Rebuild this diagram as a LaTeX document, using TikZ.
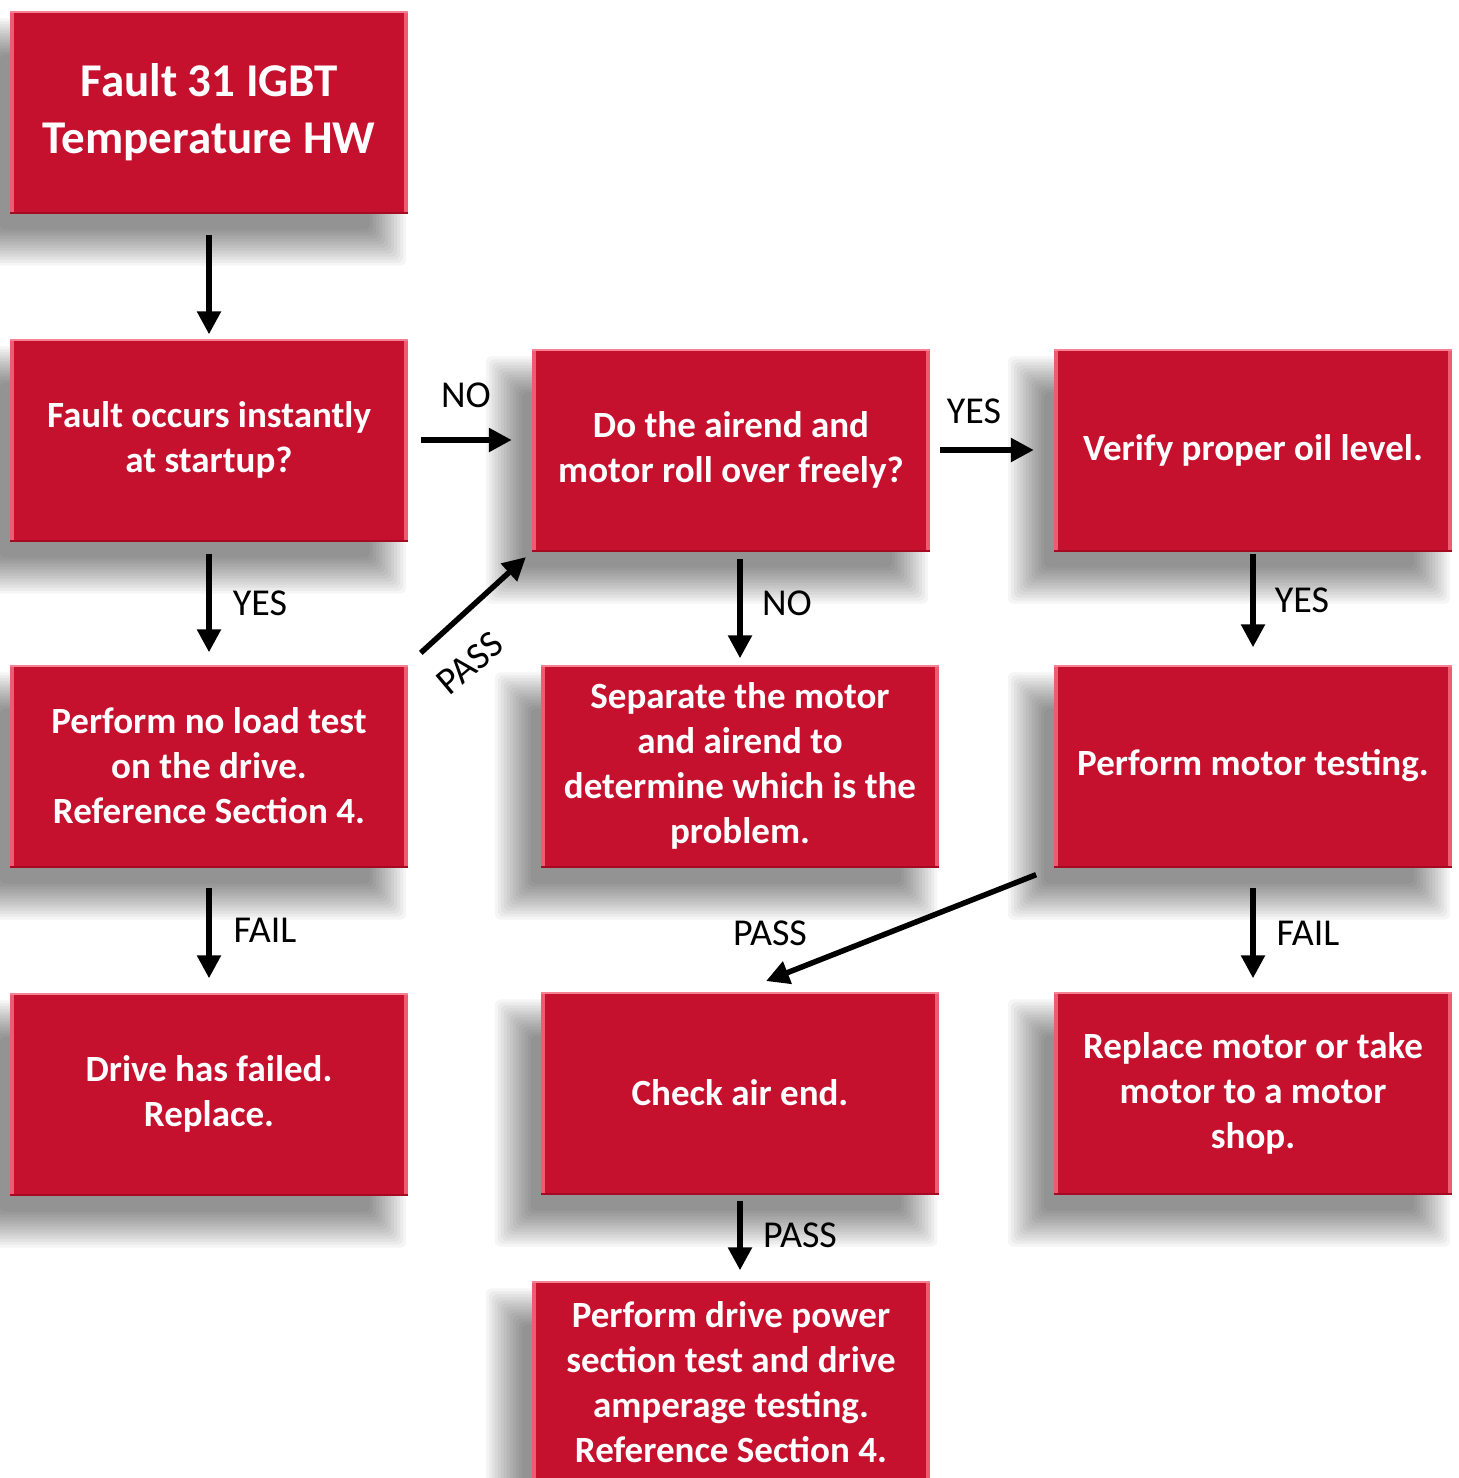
\documentclass[tikz,border=0pt]{standalone}
\usepackage{fontspec}
\setmainfont{Carlito}
\usetikzlibrary{arrows.meta}
\definecolor{boxred}{RGB}{197,16,46}
\definecolor{bevel}{RGB}{238,92,114}
\definecolor{bevtop}{RGB}{244,130,146}
\definecolor{bevdark}{RGB}{165,10,34}
\pgfdeclarelayer{shadowlayer}
\pgfsetlayers{shadowlayer,main}
\tikzset{
  box/.style={rectangle, fill=boxred, minimum width=398pt, minimum height=203pt,
    inner sep=0pt, align=center, text=white,
    font=\bfseries\fontsize{37}{45}\selectfont,
    path picture={
      \fill[bevel] (path picture bounding box.south west) rectangle ([xshift=4pt]path picture bounding box.north west);
      \fill[bevel] ([xshift=-4pt]path picture bounding box.south east) rectangle (path picture bounding box.north east);
      \fill[bevtop] ([yshift=-2pt]path picture bounding box.north west) rectangle (path picture bounding box.north east);
      \fill[bevdark] (path picture bounding box.south west) rectangle ([yshift=2pt]path picture bounding box.south east);
    }},
  titlebox/.style={box, font=\bfseries\fontsize{47}{57}\selectfont},
  arr/.style={line width=5.5pt, -{Triangle[length=23pt,width=23pt]}},
  lab/.style={font=\fontsize{38}{40}\selectfont, text=black, inner sep=0pt},
  shadowfill/.style={fill=black, opacity=0.04, rounded corners=6pt}
}
\begin{document}
\begin{tikzpicture}[x=1pt,y=-1pt]
\useasboundingbox (0,0) rectangle (1459,1478);
\begin{pgfonlayer}{shadowlayer}
\fill[white] (0,0) rectangle (1459,1478);
\end{pgfonlayer}
% boxes
\node[titlebox] (b1) at (209,112) {Fault 31 IGBT\\Temperature HW};
\node[box] (b2) at (209,440) {Fault occurs instantly\\at startup?};
\node[box] (b3) at (731,450) {Do the airend and\\motor roll over freely?};
\node[box] (b4) at (1253,450) {Verify proper oil level.};
\node[box] (b5) at (209,766) {Perform no load test\\on the drive.\\Reference Section 4.};
\node[box] (b6) at (740,766) {Separate the motor\\and airend to\\determine which is the\\problem.};
\node[box] (b7) at (1253,766) {Perform motor testing.};
\node[box] (b8) at (209,1094) {Drive has failed.\\Replace.};
\node[box] (b9) at (740,1093) {Check air end.};
\node[box] (b10) at (1253,1093) {Replace motor or take\\motor to a motor\\shop.};
\node[box] (b11) at (731,1382) {Perform drive power\\section test and drive\\amperage testing.\\Reference Section 4.};
% soft shadows
\begin{pgfonlayer}{shadowlayer}
\foreach \n in {b1,b2,b3,b4,b5,b6,b7,b8,b9,b10,b11}{
  \foreach \k [evaluate=\k as \e using -14+3*\k] in {0,...,12}{
    \fill[shadowfill] ([shift={(-24-\e,30+\e)}]\n.south west) rectangle ([shift={(-24+\e,30-\e)}]\n.north east);
  }
}
\end{pgfonlayer}
% connectors
\draw[arr, shorten <=21pt, shorten >=4pt] (b1.south) -- (b2.north);
\draw[arr, shorten <=12pt, shorten >=12pt] (b2.south) -- (b5.north);
\draw[arr, shorten <=20pt, shorten >=14pt] (b5.south) -- (b8.north);
\draw[arr, shorten <=13pt, shorten >=20pt] (b2.east) -- (b2.east -| b3.west);
\draw[arr, shorten <=10pt, shorten >=20pt] (b3.east) -- (b4.west);
\draw[arr, shorten <=7pt, shorten >=6pt] (b6.north |- b3.south) -- (b6.north);
\draw[arr, shorten <=2pt, shorten >=17pt] (b4.south) -- (b7.north);
\draw[arr, shorten <=20pt, shorten >=13pt] (b7.south) -- (b10.north);
\draw[arr, shorten <=6pt, shorten >=10pt] (b9.south) -- (b9.south |- b11.north);
\draw[arr, shorten <=17pt, shorten >=8pt] (b5.north east) -- (b3.south west);
\draw[arr, shorten <=19pt, shorten >=28pt] (b7.south west) -- (b9.north);
% labels
\node[lab] (l1) at (466,395) {NO};
\node[lab] (l2) at (974,411) {YES};
\node[lab] (l3) at (260,603) {YES};
\node[lab] (l4) at (265,930) {FAIL};
\node[lab, rotate=40] (l5) at (470,663) {PASS};
\node[lab] (l6) at (787,603) {NO};
\node[lab] (l7) at (1302,600) {YES};
\node[lab] (l8) at (770,933) {PASS};
\node[lab] (l9) at (1308,933) {FAIL};
\node[lab] (l10) at (800,1235) {PASS};
\end{tikzpicture}
\end{document}
